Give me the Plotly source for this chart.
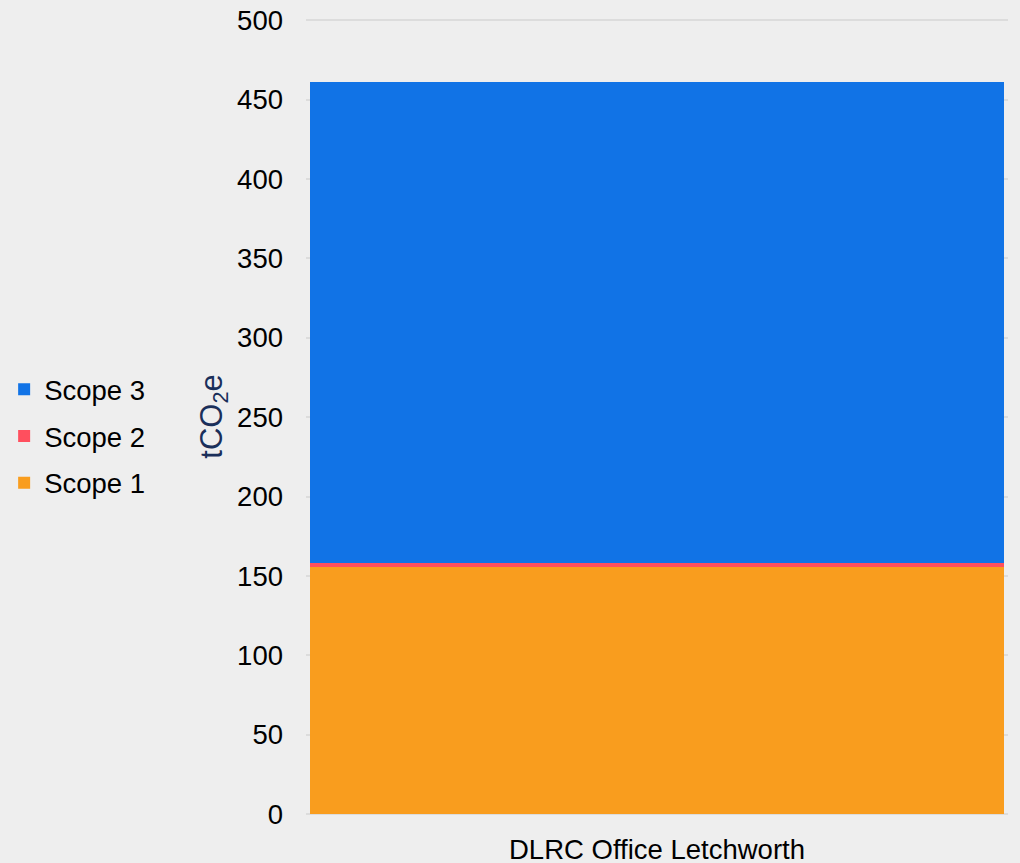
import plotly.graph_objects as go

categories = ["DLRC Office Letchworth"]
scope1 = [155.5]
scope2 = [2.5]
scope3 = [303]
series_names = ["Scope 1", "Scope 2", "Scope 3"]
series_colors = ["#f99d1e", "#ff4f5e", "#1173e6"]
legend_ranks = [3, 2, 1]
y_ticks = [0, 50, 100, 150, 200, 250, 300, 350, 400, 450, 500]

fig = go.Figure()
for name, vals, col, rk in zip(series_names, [scope1, scope2, scope3], series_colors, legend_ranks):
    fig.add_trace(go.Bar(x=categories, y=vals, name=name, marker_color=col,
                         marker_line_width=0, width=0.99, legendrank=rk,
                         legendgroup=name))

font_family = "Liberation Sans, Arial, sans-serif"
fig.update_layout(
    barmode="stack",
    width=1020, height=863,
    paper_bgcolor="#eeeeee", plot_bgcolor="#eeeeee",
    margin=dict(l=306, r=12, t=19, b=49, autoexpand=False),
    font=dict(family=font_family, size=27.5, color="#000000"),
    legend=dict(traceorder="grouped", tracegroupgap=8,
                x=-0.43, xanchor="left", y=0.475, yanchor="middle",
                bgcolor="rgba(0,0,0,0)", font=dict(size=27.5),
                itemwidth=30),
    showlegend=True,
    bargap=0,
)
fig.update_yaxes(range=[0, 500.8], tickvals=y_ticks, showgrid=True,
                 gridcolor="#dcdcdc", gridwidth=2, zeroline=True,
                 zerolinecolor="#dcdcdc", zerolinewidth=2,
                 showline=False, ticks="", ticklabelstandoff=22,
                 automargin=False,
                 title=dict(text="tCO<sub>2</sub>e", standoff=5,
                            font=dict(color="#1a2f5a", size=31)))
fig.update_xaxes(showline=False, ticks="", ticklabelstandoff=16,
                 automargin=False, showgrid=False)

fig.write_html("out.html")
